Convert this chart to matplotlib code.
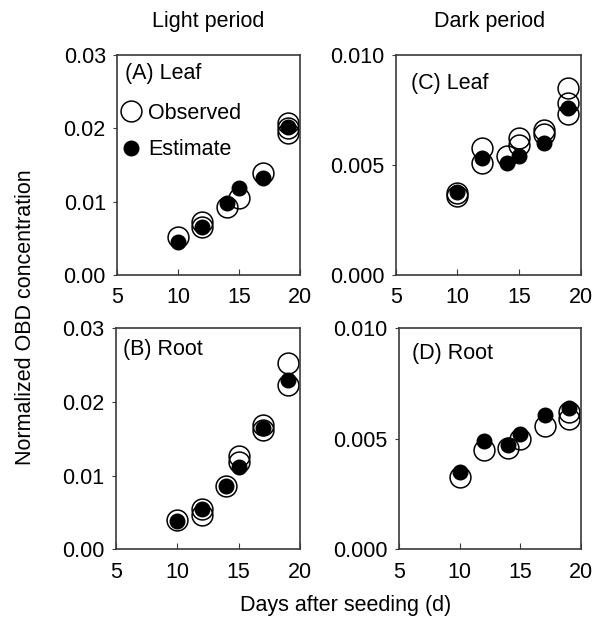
"""
Normalized OBD concentration vs days after seeding: observed replicates
(open circles) and model estimates (filled), light/dark period x leaf/root.
"""

import matplotlib
matplotlib.use("Agg")
import matplotlib.pyplot as plt
from matplotlib.lines import Line2D

plt.rcParams["font.family"] = ["Liberation Sans", "DejaVu Sans"]

# --- data ---------------------------------------------------------------
days = [10, 12, 14, 15, 17, 19]

# observed replicates per day (one list per day)
obs_A = [[0.0052], [0.0072, 0.0065], [0.0093], [0.0105], [0.0139], [0.0207, 0.0200, 0.0194]]
est_A = [0.0045, 0.0065, 0.0098, 0.0119, 0.0132, 0.0202]

obs_B = [[0.0040], [0.0054, 0.0047], [0.0086], [0.0126, 0.0119], [0.0169, 0.0162], [0.0253, 0.0223]]
est_B = [0.0039, 0.0054, 0.0086, 0.0112, 0.0165, 0.0230]

obs_C = [[0.0037, 0.0036], [0.00575, 0.0051], [0.0054], [0.0062, 0.0059], [0.0066, 0.0064], [0.0085, 0.0078, 0.0073]]
est_C = [0.00376, 0.0053, 0.0051, 0.0054, 0.0060, 0.0076]

obs_D = [[0.00327], [0.0045], [0.0046], [0.0050], [0.0056], [0.0062, 0.0059]]
est_D = [0.0035, 0.0049, 0.0047, 0.0052, 0.0061, 0.0064]

panel_labels = ["(A) Leaf", "(B) Root", "(C) Leaf", "(D) Root"]
col_titles = ["Light period", "Dark period"]
x_ticks = [5, 10, 15, 20]
y_ticks_light = [0.00, 0.01, 0.02, 0.03]
y_ticks_dark = [0.000, 0.005, 0.010]

FS = 15.5
FRAME = "#3a3a3a"


def _panel(ax, obs, est, yticks, fmt, label, lab_xy):
    xs, ys = [], []
    for d, reps in zip(days, obs):
        for v in reps:
            xs.append(d); ys.append(v)
    ax.plot(xs, ys, "o", ms=15, mfc="none", mec="black", mew=1.1, zorder=2)
    ax.plot(days, est, "o", ms=10.5, color="black", zorder=3)

    ax.set_xlim(5, 20)
    ax.set_ylim(yticks[0], yticks[-1])
    ax.set_xticks(x_ticks)
    ax.set_yticks(yticks)
    ax.set_yticklabels([fmt.format(v) for v in yticks])
    ax.tick_params(axis="x", direction="in", length=4, pad=9, labelsize=FS, color=FRAME)
    ax.tick_params(axis="y", direction="out", length=3, pad=5, labelsize=FS, color=FRAME)
    for s in ax.spines.values():
        s.set_color(FRAME)
        s.set_linewidth(1.2)
    ax.text(lab_xy[0], lab_xy[1], label, transform=ax.transAxes,
            fontsize=FS, va="center", ha="left")


fig = plt.figure(figsize=(6.06, 6.22), dpi=100)

ax_a = fig.add_axes([0.193, 0.558, 0.302, 0.354])
ax_b = fig.add_axes([0.191, 0.117, 0.304, 0.355])
ax_c = fig.add_axes([0.653, 0.558, 0.305, 0.354])
ax_d = fig.add_axes([0.658, 0.117, 0.301, 0.355])

_panel(ax_a, obs_A, est_A, y_ticks_light, "{:.2f}", panel_labels[0], (0.045, 0.915))
_panel(ax_b, obs_B, est_B, y_ticks_light, "{:.2f}", panel_labels[1], (0.04, 0.905))
_panel(ax_c, obs_C, est_C, y_ticks_dark, "{:.3f}", panel_labels[2], (0.085, 0.87))
_panel(ax_d, obs_D, est_D, y_ticks_dark, "{:.3f}", panel_labels[3], (0.07, 0.885))

handles = [
    Line2D([], [], ls="none", marker="o", ms=15, mfc="none", mec="black", mew=1.1),
    Line2D([], [], ls="none", marker="o", ms=10.5, color="black"),
]
ax_a.legend(handles, ["Observed", "Estimate"], loc="upper left",
            bbox_to_anchor=(-0.025, 0.82), frameon=False, fontsize=FS,
            handlelength=0.9, handletextpad=0.35, labelspacing=0.7,
            borderaxespad=0.0)

fig.text(0.344, 0.965, col_titles[0], fontsize=FS, ha="center", va="center")
fig.text(0.808, 0.965, col_titles[1], fontsize=FS, ha="center", va="center")
fig.text(0.042, 0.49, "Normalized OBD concentration", fontsize=FS,
         rotation=90, ha="center", va="center")
fig.text(0.57, 0.027, "Days after seeding (d)", fontsize=FS, ha="center", va="center")

fig.savefig("out.png", dpi=100, facecolor="white")
